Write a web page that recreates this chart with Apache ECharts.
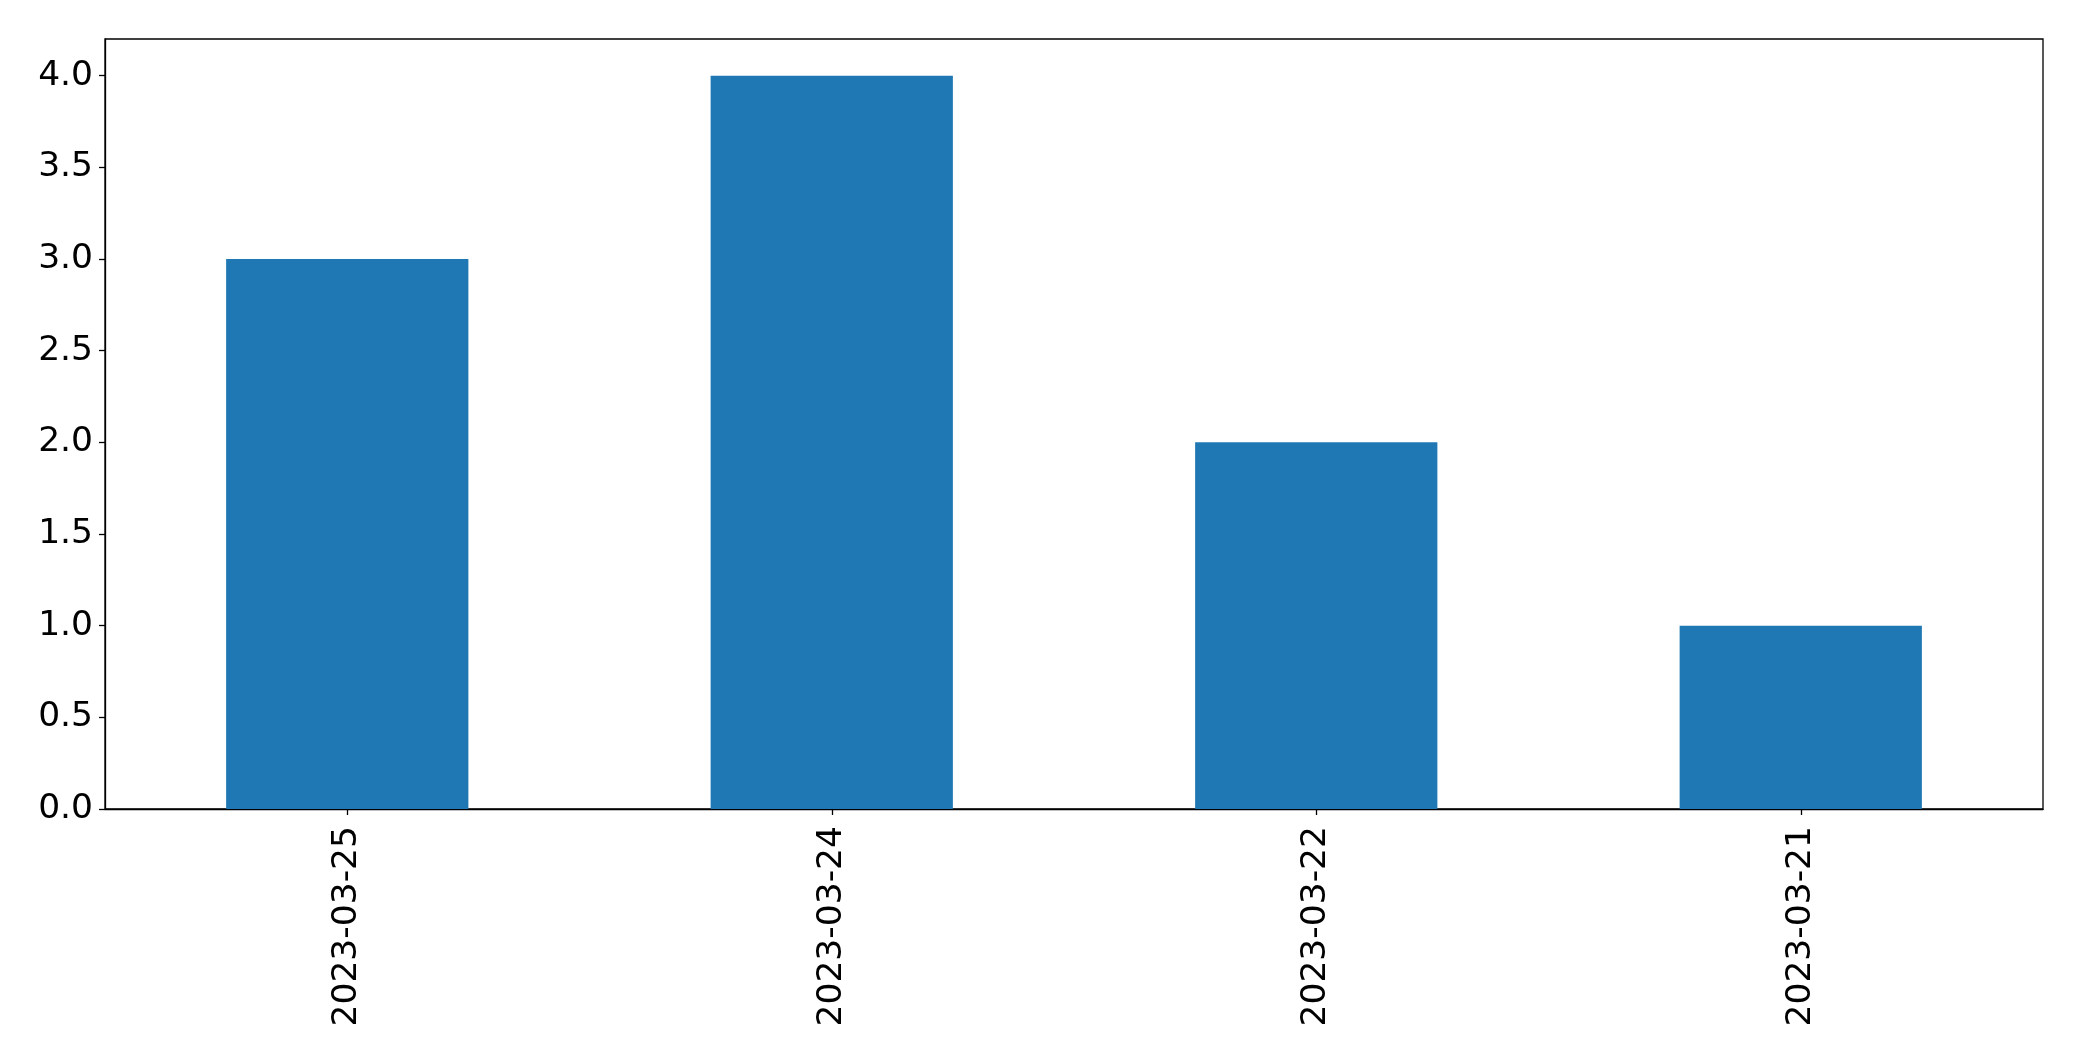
<!DOCTYPE html>
<html><head><meta charset="utf-8">
<script src="https://cdn.jsdelivr.net/npm/echarts@6/dist/echarts.min.js"></script>
<style>html,body{margin:0;padding:0;background:#fff}#c{width:2082px;height:1061px}</style>
</head><body><div id="c"></div>
<script>
const categories = ["2023-03-25", "2023-03-24", "2023-03-22", "2023-03-21"];
const values = [3, 4, 2, 1];
const yTicks = [0, 0.5, 1, 1.5, 2, 2.5, 3, 3.5, 4];
const chart = echarts.init(document.getElementById('c'), null, {renderer: 'canvas'});
const font = "DejaVu Sans";
chart.setOption({
  animation: false,
  backgroundColor: '#fff',
  grid: {left: 105, right: 39, top: 39, bottom: 252, show: true, borderColor: '#000', borderWidth: 1.3, backgroundColor: 'transparent'},
  xAxis: {
    type: 'category', data: categories,
    axisLine: {show: true, lineStyle: {color: '#000', width: 1.3}},
    axisTick: {show: true, alignWithLabel: true, length: 6, lineStyle: {color: '#000', width: 1.3}},
    axisLabel: {rotate: 90, margin: 17, fontFamily: font, fontSize: 34.5, color: '#000', interval: 0},
    splitLine: {show: false}
  },
  yAxis: {
    type: 'value', min: 0, max: 4.2, interval: 0.5,
    axisLine: {show: true, lineStyle: {color: '#000', width: 1.3}},
    axisTick: {show: true, length: 6, customValues: yTicks, lineStyle: {color: '#000', width: 1.3}},
    axisLabel: {margin: 12, fontFamily: font, fontSize: 34.5, color: '#000', customValues: yTicks,
      padding: [6, 0, 0, 0], formatter: v => v.toFixed(1)},
    splitLine: {show: false}
  },
  series: [{type: 'bar', data: values, barWidth: '50%', itemStyle: {color: '#1f77b4'}}]
});
</script></body></html>
